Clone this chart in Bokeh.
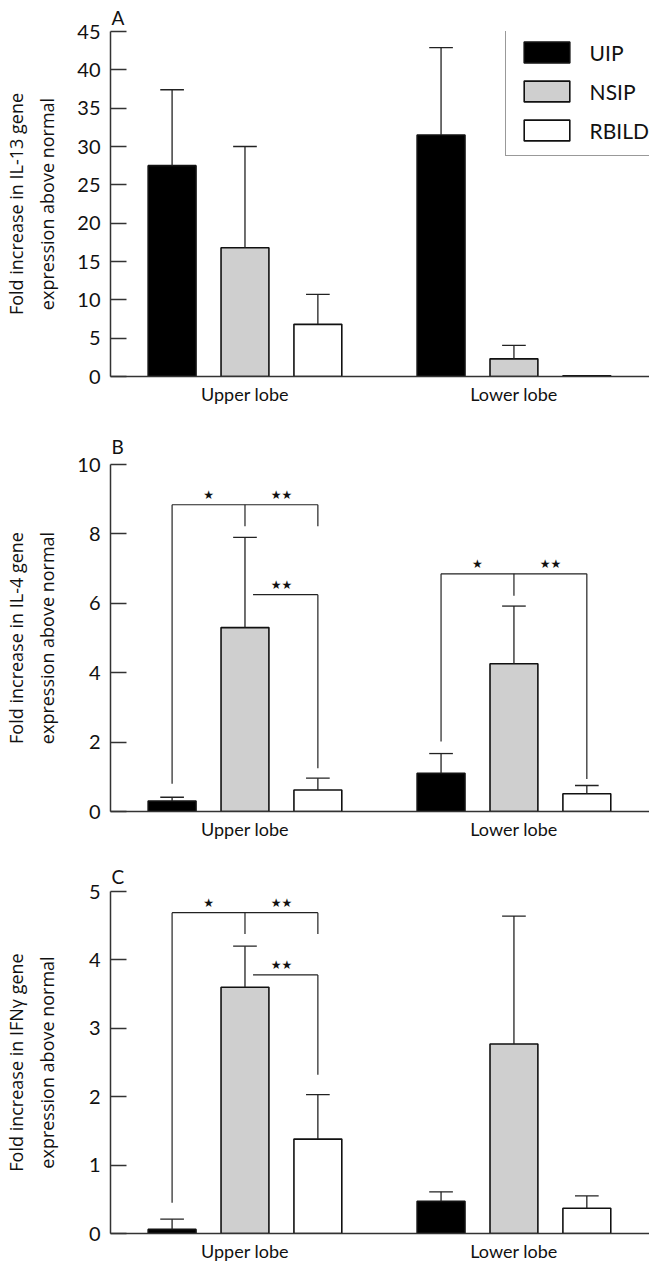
from bokeh.plotting import figure
from bokeh.layouts import column
from bokeh.models import Legend, LegendItem, FixedTicker, Range1d
from bokeh.embed import file_html
from bokeh.resources import INLINE
from bokeh.core.properties import value

# ---------------- data ----------------
categories = ["Upper lobe", "Lower lobe"]
groups = ["UIP", "NSIP", "RBILD"]
colors = ["#000000", "#cfcfcf", "#ffffff"]

# Panel A: IL-13 (mean and upper SEM)
il13_uip = [27.5, 31.5]
il13_uip_sem = [9.9, 11.4]
il13_nsip = [16.8, 2.3]
il13_nsip_sem = [13.2, 1.75]
il13_rbild = [6.8, 0.1]
il13_rbild_sem = [3.9, 0.0]

# Panel B: IL-4
il4_uip = [0.30, 1.10]
il4_uip_sem = [0.11, 0.57]
il4_nsip = [5.30, 4.26]
il4_nsip_sem = [2.60, 1.66]
il4_rbild = [0.62, 0.51]
il4_rbild_sem = [0.34, 0.24]

# Panel C: IFN-gamma
ifn_uip = [0.06, 0.47]
ifn_uip_sem = [0.15, 0.14]
ifn_nsip = [3.60, 2.77]
ifn_nsip_sem = [0.60, 1.87]
ifn_rbild = [1.38, 0.37]
ifn_rbild_sem = [0.65, 0.18]

# y ticks
il13_ticks = [0, 5, 10, 15, 20, 25, 30, 35, 40, 45]
il4_ticks = [0, 2, 4, 6, 8, 10]
ifn_ticks = [0, 1, 2, 3, 4, 5]

# significance brackets: (category index, level, UIP leg end, NSIP leg end, RBILD leg end)
il4_brackets = [(0, 8.84, 0.80, 8.22, 8.22), (1, 6.85, 2.02, 6.22, 0.94)]
il4_short_brackets = [(0, 6.25, 1.25)]  # NSIP vs RBILD: level, RBILD leg end
ifn_brackets = [(0, 4.69, 0.45, 4.38, 4.38)]
ifn_short_brackets = [(0, 3.78, 2.32)]
star_labels = ["\u2605", "\u2605\u2605"]

# ---------------- styling ----------------
OFFSETS = [-0.271, 0.0, 0.271]
BAR_W = 0.178
CAP = 0.044
LINE = "#222222"
FONT = "Lato"
LABEL_FONT = "Open Sans"


def make_panel(letter, ymax, ticks, means, sems, ylabel, height, top, bottom,
               label_standoff, title_standoff, brackets=(), short_brackets=()):
    p = figure(width=649, height=height, x_range=Range1d(0.5, 2.504),
               y_range=Range1d(0, ymax), output_backend="svg",
               toolbar_location=None, min_border_left=98, min_border_right=0,
               min_border_top=top, min_border_bottom=bottom, title=letter)
    p.outline_line_color = None
    p.grid.visible = False
    p.background_fill_color = "white"
    p.border_fill_color = "white"

    p.title.text_font = FONT
    p.title.text_font_size = "19px"
    p.title.text_font_style = "normal"
    p.title.text_color = "#111111"
    p.title.align = "left"
    p.title.offset = 1
    p.title.standoff = title_standoff

    xs = [i + 1 for i in range(len(categories))]
    renderers = []
    for gi, g in enumerate(groups):
        bx = [x + OFFSETS[gi] for x in xs]
        r = p.vbar(x=bx, top=means[gi], width=BAR_W, bottom=0,
                   fill_color=colors[gi], line_color="#111111", line_width=1.6)
        renderers.append(r)
        ex, ey0, ey1 = [], [], []
        for x, m, s in zip(bx, means[gi], sems[gi]):
            if s > 0:
                ex.append(x); ey0.append(m); ey1.append(m + s)
        p.segment(x0=ex, y0=ey0, x1=ex, y1=ey1, line_color=LINE, line_width=1.3)
        p.segment(x0=[x - CAP for x in ex], y0=ey1, x1=[x + CAP for x in ex],
                  y1=ey1, line_color=LINE, line_width=1.3)

    # significance brackets
    for (ci, lvl, l0, l1, l2) in brackets:
        c = ci + 1
        bx = [c + o for o in OFFSETS]
        p.segment(x0=[bx[0], bx[0], bx[1], bx[2]], y0=[lvl, lvl, lvl, lvl],
                  x1=[bx[2], bx[0], bx[1], bx[2]], y1=[lvl, l0, l1, l2],
                  line_color=LINE, line_width=1.2)
        p.text(x=[(bx[0] + bx[1]) / 2, (bx[1] + bx[2]) / 2], y=[lvl, lvl],
               text=star_labels, text_align="center", text_baseline="bottom",
               text_font_size="12px", text_font=value("DejaVu Sans"),
               text_color="#111111", y_offset=-3)
    for (ci, lvl, l2) in short_brackets:
        c = ci + 1
        bx = [c + o for o in OFFSETS]
        p.segment(x0=[bx[1] + 0.03, bx[2]], y0=[lvl, lvl], x1=[bx[2], bx[2]],
                  y1=[lvl, l2], line_color=LINE, line_width=1.2)
        p.text(x=[(bx[1] + bx[2]) / 2], y=[lvl], text=[star_labels[1]],
               text_align="center", text_baseline="bottom",
               text_font_size="12px", text_font=value("DejaVu Sans"),
               text_color="#111111", y_offset=-3)

    # axes
    ya = p.yaxis[0]
    ya.ticker = FixedTicker(ticks=ticks)
    ya.major_tick_in = 16
    ya.major_tick_out = 0
    ya.minor_tick_in = 0
    ya.minor_tick_out = 0
    ya.axis_line_width = 1.5
    ya.axis_line_color = "#333333"
    ya.major_tick_line_width = 1.5
    ya.major_tick_line_color = "#333333"
    ya.major_label_text_font = FONT
    ya.major_label_text_font_size = "20px"
    ya.major_label_text_color = "#111111"
    ya.major_label_standoff = 10
    ya.axis_label = ylabel
    ya.axis_label_text_font = LABEL_FONT
    ya.axis_label_text_font_size = "18px"
    ya.axis_label_text_line_height = 1.3
    ya.axis_label_text_font_style = "normal"
    ya.axis_label_text_color = "#111111"
    ya.axis_label_standoff = label_standoff

    xa = p.xaxis[0]
    xa.ticker = FixedTicker(ticks=xs)
    xa.major_label_overrides = {x: c for x, c in zip(xs, categories)}
    xa.major_tick_in = 0
    xa.major_tick_out = 0
    xa.minor_tick_in = 0
    xa.minor_tick_out = 0
    xa.axis_line_width = 1.5
    xa.axis_line_color = "#333333"
    xa.major_label_text_font = FONT
    xa.major_label_text_font_size = "18px"
    xa.major_label_text_color = "#111111"
    xa.major_label_standoff = 6
    return p, renderers


pA, rA = make_panel("A", 45, il13_ticks,
                    [il13_uip, il13_nsip, il13_rbild],
                    [il13_uip_sem, il13_nsip_sem, il13_rbild_sem],
                    "Fold increase in IL-13 gene\nexpression above normal",
                    410, 29, 34, 15, 6)
legend = Legend(items=[LegendItem(label=g, renderers=[r]) for g, r in zip(groups, rA)],
                location=(394.6, 220), glyph_width=57, glyph_height=26,
                spacing=13, padding=12, label_standoff=15,
                label_text_font_size="21px", label_text_font=FONT,
                label_text_color="#111111", border_line_color="#333333",
                border_line_width=1.5, background_fill_color="white",
                background_fill_alpha=1.0, margin=0)
pA.add_layout(legend)

pB, _ = make_panel("B", 10, il4_ticks,
                   [il4_uip, il4_nsip, il4_rbild],
                   [il4_uip_sem, il4_nsip_sem, il4_rbild_sem],
                   "Fold increase in IL-4 gene\nexpression above normal",
                   440, 54, 39, 15, 13, il4_brackets, il4_short_brackets)

pC, _ = make_panel("C", 5, ifn_ticks,
                   [ifn_uip, ifn_nsip, ifn_rbild],
                   [ifn_uip_sem, ifn_nsip_sem, ifn_rbild_sem],
                   "Fold increase in IFN\u03b3 gene\nexpression above normal",
                   414, 41, 26, 27, 8, ifn_brackets, ifn_short_brackets)

layout = column(pA, pB, pC, spacing=0)
open("out.html", "w").write(file_html(layout, INLINE))
